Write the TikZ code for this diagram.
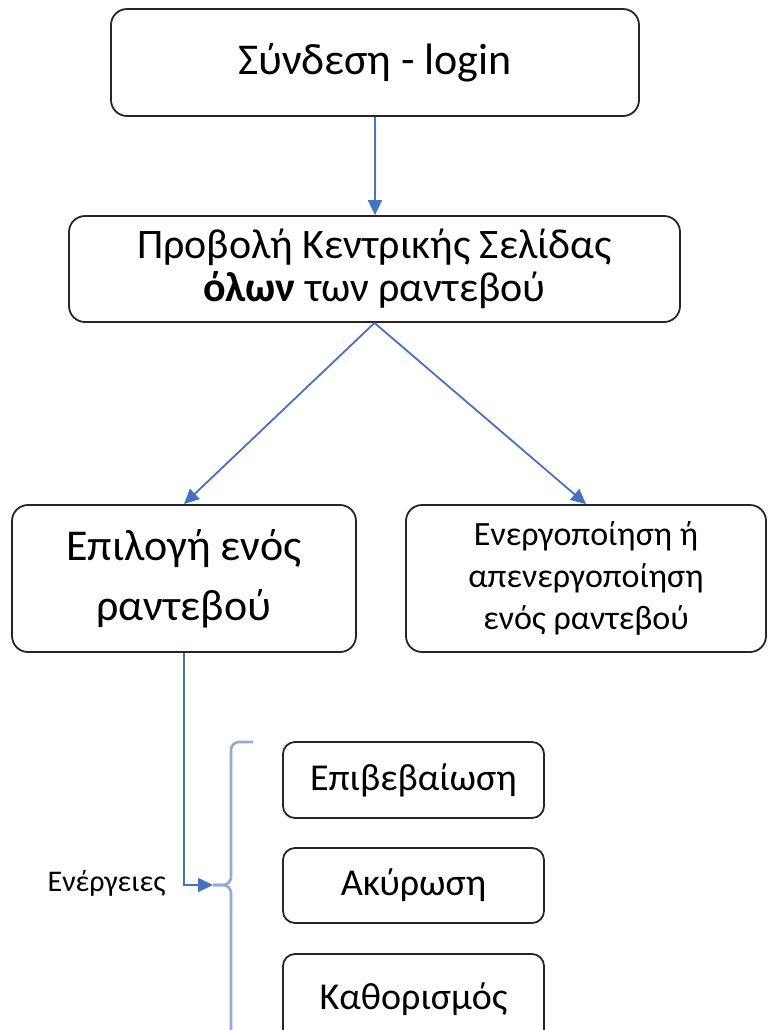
\documentclass[tikz,border=0pt]{standalone}
\usepackage{fontspec}
\setmainfont{Carlito}
\usetikzlibrary{arrows.meta}
\definecolor{arblue}{HTML}{4472C4}
\definecolor{brblue}{HTML}{8FAADC}
\begin{document}
\begin{tikzpicture}[x=0.5pt,y=-0.5pt]
		\tikzset{bx/.style={draw=black!85, line width=0.9pt, rounded corners=8pt, align=center, inner sep=0pt},
			ar/.style={draw=arblue, line width=0.9pt, -{Triangle[length=7.5pt,width=7pt]}},
			brace/.style={draw=brblue, line width=1.3pt, rounded corners=4pt}};
		\useasboundingbox (0,0) rectangle (772,1030);

		\node[bx, minimum width=264pt, minimum height=53.5pt, font=\fontsize{22}{26}\selectfont] (login) at (375,62.5) {Σύνδεση - login};
		\node[bx, minimum width=305.5pt, minimum height=53pt, font=\fontsize{21}{21.5}\selectfont] (main) at (374.5,269) {Προβολή Κεντρικής Σελίδας\\\textbf{όλων} των ραντεβού};
		\node[bx, minimum width=172pt, minimum height=73.5pt, font=\fontsize{22}{30}\selectfont] (pick) at (184,578.5) {Επιλογή ενός\\ραντεβού};
		\node[bx, minimum width=180pt, minimum height=73.5pt, font=\fontsize{17}{21}\selectfont] (onoff) at (586,578.5) {Ενεργοποίηση ή\\απενεργοποίηση\\ενός ραντεβού};
		\node[bx, rounded corners=6pt, minimum width=130.5pt, minimum height=38pt, font=\fontsize{19}{22}\selectfont] (conf) at (413.5,780) {Επιβεβαίωση};
		\node[bx, rounded corners=6pt, minimum width=130.5pt, minimum height=37.5pt, font=\fontsize{19}{22}\selectfont] (cancel) at (413.5,885.5) {Ακύρωση};
		\node[bx, rounded corners=6pt, minimum width=130.5pt, minimum height=45pt, font=\fontsize{19}{22}\selectfont] (define) at (413.5,999) {Καθορισμός};
		\node[anchor=east, inner sep=0pt, font=\fontsize{15}{18}\selectfont] (acts) at (166,883) {Ενέργειες};
		\coordinate (tip) at (213,885);

		\draw[ar] (login.south) -- (login.south |- main.north);
		\draw[ar] (main.south) -- (pick.north);
		\draw[ar] (main.south) -- (onoff.north);
		\draw[ar] (pick.south) |- (tip);

		\draw[brace] (253,742) -| (231,885) -- (tip);
		\draw[brace] (tip) -- (231,885) -- (231,1045);
	\end{tikzpicture}
\end{document}
